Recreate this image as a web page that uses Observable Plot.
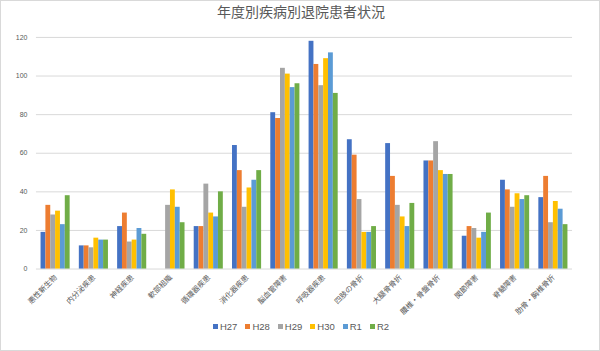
<!DOCTYPE html>
<html><head><meta charset="utf-8">
<script src="https://cdn.jsdelivr.net/npm/d3@7"></script>
<script src="https://cdn.jsdelivr.net/npm/@observablehq/plot@0.6"></script>
<style>
html,body{margin:0;padding:0;background:#fff;}
#wrap{position:relative;width:600px;height:351px;box-sizing:border-box;border:1px solid #d9d9d9;overflow:hidden;font-family:"Noto Sans CJK JP",sans-serif;}
#title{position:absolute;top:0px;left:0;width:600px;text-align:center;font-size:14px;color:#595959;}
#chart{position:absolute;top:-1px;left:-1px;}
#legend{position:absolute;top:320px;left:0;width:600px;text-align:center;font-family:Arial,"Liberation Sans",sans-serif;font-size:9.5px;color:#595959;}
#legend span{margin:0 4px;}
#legend i{display:inline-block;width:5px;height:5px;margin-right:2px;vertical-align:1px;}
</style></head>
<body><div id="wrap"><div id="title">年度別疾病別退院患者状況</div><div id="chart"></div><div id="legend"></div></div>
<script>
const categories = ["悪性新生物","内分泌疾患","神経疾患","軟部組織","循環器疾患","消化器疾患","脳血管障害","呼吸器疾患","四肢の骨折","大腿骨骨折","腰椎・骨盤骨折","関節障害","脊髄障害","肋骨・胸椎骨折"];
const years = ["H27","H28","H29","H30","R1","R2"];
const H27 = [19,12,22,0,22,64,81,118,67,65,56,17,46,37];
const H28 = [33,12,29,0,22,51,78,106,59,48,56,22,41,48];
const H29 = [28,11,14,33,44,32,104,95,36,33,66,21,32,24];
const H30 = [30,16,15,41,29,42,101,109,19,27,51,16,39,35];
const R1  = [23,15,21,32,27,46,94,112,19,22,49,19,36,31];
const R2  = [38,15,18,24,40,51,96,91,22,34,49,29,38,23];
const colors = ["#4472C4","#ED7D31","#A5A5A5","#FFC000","#5B9BD5","#70AD47"];
const yTicks = [0,20,40,60,80,100,120];

const series = [H27,H28,H29,H30,R1,R2];

const W = 600, H = 351, mL = 36, mR = 27, pad = 0.24;
const step = (W - mL - mR) / categories.length;
const bw = step * (1 - pad);
const w = bw / years.length;

const barMarks = series.map((vals, j) =>
  Plot.barY(categories.map((c, i) => ({cat: c, year: years[j], value: vals[i]})), {
    x: "cat", y: "value", fill: "year",
    insetLeft: j * w, insetRight: (years.length - 1 - j) * w
  })
);

const chart = Plot.plot({
  width: W, height: H,
  marginTop: 37, marginBottom: 82, marginLeft: mL, marginRight: mR,
  style: {fontFamily: "'Noto Sans CJK JP',sans-serif", color: "#595959", background: "transparent"},
  x: {domain: categories, paddingInner: pad, paddingOuter: pad / 2, round: false, axis: null},
  y: {domain: [0, 120], ticks: yTicks, label: null},
  color: {domain: years, range: colors},
  marks: [
    Plot.ruleY(yTicks, {stroke: "#d9d9d9", strokeWidth: 1}),
    Plot.axisY({ticks: yTicks, tickSize: 0, tickPadding: 9, fontSize: 7, fontFamily: "Arial,'Liberation Sans',sans-serif"}),
    ...barMarks,
    Plot.text(categories, {x: d => d, frameAnchor: "bottom", dy: 9, dx: 2, rotate: -45, textAnchor: "end", fontSize: 7.5, fill: "#595959"})
  ]
});
document.getElementById("chart").appendChild(chart);
const lg = document.getElementById("legend");
years.forEach((y, j) => {const s = document.createElement("span"); s.innerHTML = `<i style="background:${colors[j]}"></i>${y}`; lg.appendChild(s);});
</script></body></html>
